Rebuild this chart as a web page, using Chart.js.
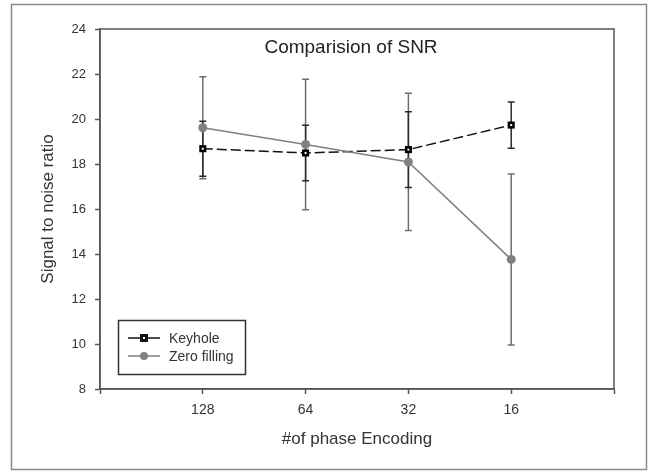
<!DOCTYPE html>
<html>
<head>
<meta charset="utf-8">
<script src="https://cdn.jsdelivr.net/npm/chart.js@4.4.1/dist/chart.umd.min.js"></script>
<style>
  html, body { margin: 0; padding: 0; background: #fff; }
  canvas { display: block; }
</style>
</head>
<body>
<canvas id="snrChart" width="648" height="472"></canvas>
<script>
const categories = ['128', '64', '32', '16'];
const keyhole = [18.68, 18.49, 18.64, 19.73];
const keyholeErr = [1.22, 1.23, 1.68, 1.03];
const zeroFill = [19.61, 18.87, 18.09, 13.76];
const zeroFillErr = [2.27, 2.9, 3.05, 3.8];

const FONT = 'Arial, "Liberation Sans", sans-serif';
const AXIS = '#555';
const TEXT = '#333';

const toPoints = arr => arr.map((v, i) => ({ x: i + 1, y: v }));

// frame around page + box around plot area
const framePlugin = {
    id: 'frame',
    beforeDraw(chart) {
        const { ctx } = chart;
        ctx.save();
        ctx.fillStyle = '#fff';
        ctx.fillRect(0, 0, chart.width, chart.height);
        ctx.strokeStyle = '#8a8a8a';
        ctx.lineWidth = 1.5;
        ctx.strokeRect(11.5, 4.5, 635, 465);
        ctx.restore();
    },
    afterDraw(chart) {
        const { ctx, chartArea: a } = chart;
        ctx.save();
        ctx.strokeStyle = AXIS;
        ctx.lineWidth = 1.5;
        ctx.strokeRect(a.left, a.top, a.right - a.left, a.bottom - a.top);
        ctx.restore();
    }
};

// vertical error bars with caps
const errorBarPlugin = {
    id: 'errorBars',
    beforeDatasetsDraw(chart) {
        const { ctx } = chart;
        const xs = chart.scales.x, ys = chart.scales.y;
        const sets = [
            { vals: zeroFill, errs: zeroFillErr, color: '#6e6e6e' },
            { vals: keyhole, errs: keyholeErr, color: '#2a2a2a' }
        ];
        ctx.save();
        ctx.lineWidth = 1.5;
        sets.forEach(s => {
            ctx.strokeStyle = s.color;
            s.vals.forEach((v, i) => {
                const x = xs.getPixelForValue(i + 1);
                const yTop = ys.getPixelForValue(v + s.errs[i]);
                const yBot = ys.getPixelForValue(v - s.errs[i]);
                ctx.beginPath();
                ctx.moveTo(x, yTop); ctx.lineTo(x, yBot);
                ctx.moveTo(x - 3.5, yTop); ctx.lineTo(x + 3.5, yTop);
                ctx.moveTo(x - 3.5, yBot); ctx.lineTo(x + 3.5, yBot);
                ctx.stroke();
            });
        });
        ctx.restore();
    },
    afterDatasetsDraw(chart) {
        // small white dot inside keyhole squares
        const { ctx } = chart;
        const meta = chart.getDatasetMeta(1);
        ctx.save();
        ctx.fillStyle = '#fff';
        meta.data.forEach(p => ctx.fillRect(p.x - 1, p.y - 1, 2, 2));
        ctx.restore();
    }
};

// title + legend inside plot area
const annotatePlugin = {
    id: 'annotate',
    afterDraw(chart) {
        const { ctx } = chart;
        ctx.save();
        ctx.fillStyle = '#222';
        ctx.font = '19px ' + FONT;
        ctx.textAlign = 'center';
        ctx.textBaseline = 'middle';
        ctx.fillText('Comparision of SNR', 351, 48);

        // legend box
        ctx.strokeStyle = '#333';
        ctx.lineWidth = 1.5;
        ctx.strokeRect(118.5, 320.5, 127, 54);
        const rows = [
            { label: 'Keyhole', y: 338, color: '#111', square: true },
            { label: 'Zero filling', y: 356, color: '#808080', square: false }
        ];
        ctx.font = '14px ' + FONT;
        ctx.textAlign = 'left';
        rows.forEach(r => {
            ctx.strokeStyle = r.color;
            ctx.lineWidth = 1.5;
            ctx.beginPath();
            ctx.moveTo(128, r.y); ctx.lineTo(160, r.y);
            ctx.stroke();
            ctx.fillStyle = r.color;
            if (r.square) {
                ctx.fillRect(140, r.y - 4, 8, 8);
                ctx.fillStyle = '#fff';
                ctx.fillRect(143, r.y - 1, 2, 2);
            } else {
                ctx.beginPath();
                ctx.arc(144, r.y, 4, 0, Math.PI * 2);
                ctx.fill();
            }
            ctx.fillStyle = TEXT;
            ctx.fillText(r.label, 169, r.y + 1);
        });
        ctx.restore();
    }
};

new Chart(document.getElementById('snrChart'), {
    type: 'line',
    data: {
        datasets: [
            {
                label: 'Zero filling',
                data: toPoints(zeroFill),
                borderColor: '#808080',
                backgroundColor: '#808080',
                borderWidth: 1.5,
                pointStyle: 'circle',
                pointRadius: 4.5,
                pointBorderWidth: 0
            },
            {
                label: 'Keyhole',
                data: toPoints(keyhole),
                borderColor: '#111',
                backgroundColor: '#000',
                borderWidth: 1.5,
                borderDash: [10, 4],
                pointStyle: 'rect',
                pointRadius: 5,
                pointBorderWidth: 0
            }
        ]
    },
    options: {
        responsive: false,
        animation: false,
        devicePixelRatio: 1,
        layout: { padding: { top: 29, right: 34, left: 0, bottom: 0 } },
        plugins: { legend: { display: false }, tooltip: { enabled: false } },
        scales: {
            x: {
                type: 'linear',
                min: 0,
                max: 5,
                afterFit(scale) { scale.height = 83; },
                border: { display: true, color: AXIS, width: 1.5 },
                grid: { drawOnChartArea: false, drawTicks: true, tickLength: 5, color: AXIS, tickWidth: 1.5 },
                ticks: {
                    stepSize: 1,
                    padding: 8,
                    color: TEXT,
                    font: { family: FONT, size: 14 },
                    callback: v => categories[v - 1] || ''
                },
                title: {
                    display: true,
                    text: '#of phase Encoding',
                    color: TEXT,
                    font: { family: FONT, size: 17 },
                    padding: { top: 0, bottom: 22 }
                }
            },
            y: {
                min: 8,
                max: 24,
                afterFit(scale) { scale.width = 100; },
                border: { display: true, color: AXIS, width: 1.5 },
                grid: { drawOnChartArea: false, drawTicks: true, tickLength: 5, color: AXIS, tickWidth: 1.5 },
                ticks: {
                    stepSize: 2,
                    padding: 9,
                    color: TEXT,
                    font: { family: FONT, size: 13 }
                },
                title: {
                    display: true,
                    text: 'Signal to noise ratio',
                    color: TEXT,
                    font: { family: FONT, size: 17 },
                    padding: { top: 38, bottom: 0 }
                }
            }
        }
    },
    plugins: [framePlugin, errorBarPlugin, annotatePlugin]
});
</script>
</body>
</html>
